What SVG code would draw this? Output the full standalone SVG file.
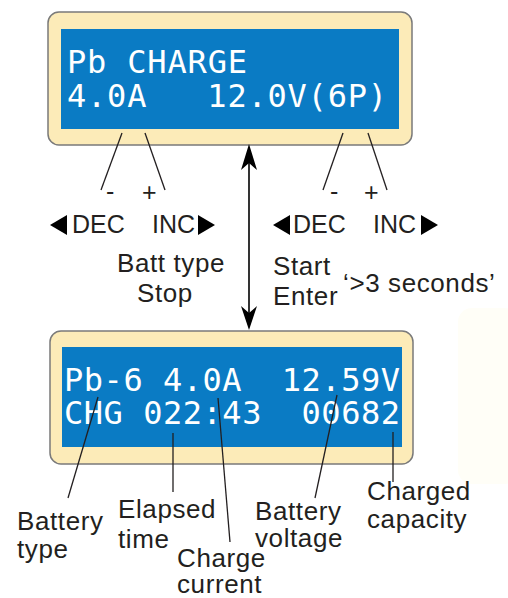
<svg xmlns="http://www.w3.org/2000/svg" width="508" height="598" viewBox="0 0 508 598">
<style>
.frame{fill:#fcebb8;stroke:#7a7a7a;stroke-width:1.5}
.lcd{fill:#0a7bc4}
.lcdt{font-family:"DejaVu Sans Mono",monospace;font-size:32px;fill:#ffffff;white-space:pre}
.lbl{font-family:"Liberation Sans",Arial,sans-serif;font-size:26px;fill:#231f20;letter-spacing:0.6px}
.btn{font-family:"Liberation Sans",Arial,sans-serif;font-size:25px;fill:#231f20}
.ld{stroke:#231f20;stroke-width:1.3;fill:none}
.tri{fill:#000000}
.head{fill:#000000}
</style>
<rect x="458" y="308" width="60" height="176" rx="14" fill="#fffef7"/>
<g id="lcd-top">
<rect class="frame" x="48" y="12" width="364" height="133" rx="11"/>
<rect class="lcd" x="61" y="29" width="338" height="100"/>
<text class="lcdt" x="67" y="73" xml:space="preserve" textLength="180">Pb CHARGE</text>
<text class="lcdt" x="67" y="107" xml:space="preserve" textLength="320">4.0A   12.0V(6P)</text>
</g>
<g id="lcd-bottom">
<rect class="frame" x="50" y="331" width="363" height="133" rx="11"/>
<rect class="lcd" x="62" y="347" width="340" height="100"/>
<text class="lcdt" x="64" y="391" xml:space="preserve" textLength="336">Pb-6 4.0A  12.59V</text>
<text class="lcdt" x="64" y="424" xml:space="preserve" textLength="336">CHG 022:43  00682</text>
</g>
<g id="connectors">
<line class="ld" x1="122" y1="133" x2="101" y2="190"/>
<line class="ld" x1="145" y1="133" x2="165" y2="190"/>
<line class="ld" x1="343" y1="133" x2="323" y2="190"/>
<line class="ld" x1="368" y1="133" x2="387" y2="190"/>
<line x1="249" y1="160" x2="249" y2="315" stroke="#000" stroke-width="1.6"/>
<path class="head" d="M249 144 L257 170 L249 163 L241 170 Z"/>
<path class="head" d="M249 330 L257 306 L249 313 L241 306 Z"/>
<line class="ld" x1="98" y1="397" x2="68" y2="498"/>
<line class="ld" x1="173" y1="433" x2="173" y2="492"/>
<line class="ld" x1="218" y1="398" x2="230" y2="542"/>
<line class="ld" x1="337" y1="395" x2="315" y2="498"/>
<line class="ld" x1="393" y1="432" x2="393" y2="482"/>
</g>
<g id="buttons-left">
<text class="btn" x="106" y="200" font-size="27">-</text>
<text class="btn" x="142" y="201" font-size="27">+</text>
<polygon class="tri" points="50,225 67,215 67,235"/>
<text class="btn" x="72" y="233">DEC</text>
<text class="btn" x="152" y="233">INC</text>
<polygon class="tri" points="215,225 198,215 198,235"/>
<text class="lbl" x="171" y="272" text-anchor="middle">Batt type</text>
<text class="lbl" x="165" y="302" text-anchor="middle">Stop</text>
</g>
<g id="buttons-right">
<text class="btn" x="330" y="200" font-size="27">-</text>
<text class="btn" x="364" y="201" font-size="27">+</text>
<polygon class="tri" points="273,225 290,215 290,235"/>
<text class="btn" x="293" y="233">DEC</text>
<text class="btn" x="373" y="233">INC</text>
<polygon class="tri" points="438,225 421,215 421,235"/>
<text class="lbl" x="273" y="275">Start</text>
<text class="lbl" x="273" y="305">Enter</text>
<text class="lbl" x="343" y="292">‘&gt;3 seconds’</text>
</g>
<g id="labels">
<text class="lbl" x="17" y="530">Battery</text>
<text class="lbl" x="17" y="558">type</text>
<text class="lbl" x="118" y="518">Elapsed</text>
<text class="lbl" x="118" y="548">time</text>
<text class="lbl" x="177" y="567">Charge</text>
<text class="lbl" x="177" y="593">current</text>
<text class="lbl" x="255" y="520">Battery</text>
<text class="lbl" x="255" y="547">voltage</text>
<text class="lbl" x="367" y="500">Charged</text>
<text class="lbl" x="367" y="528">capacity</text>
</g>
</svg>
